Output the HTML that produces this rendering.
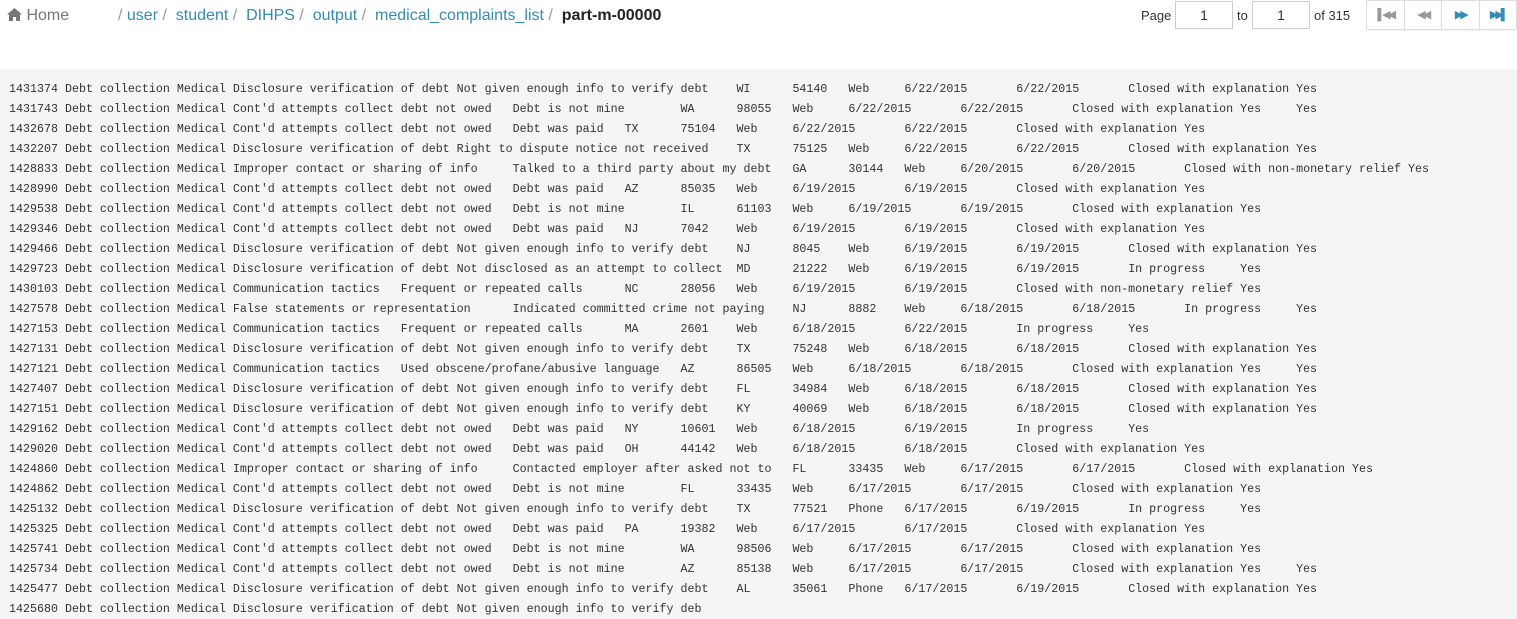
<!DOCTYPE html>
<html><head><meta charset="utf-8">
<style>
body{margin:0;width:1517px;height:619px;overflow:hidden;background:#fff;font-family:"Liberation Sans",sans-serif;position:relative}
.hdr{position:absolute;top:0;left:0;height:34px;width:1517px}
.home{position:absolute;left:7px;top:7px;font-size:16px;color:#777}
.crumbs{position:absolute;left:118px;top:7px;font-size:16px;color:#999;white-space:pre}
.crumbs a{color:#338bb8;text-decoration:none}
.crumbs b{color:#222}
.pg{position:absolute;top:8px;font-size:13px;color:#333}
.inp{position:absolute;top:1px;height:28px;border:1px solid #ccc;box-sizing:border-box;font-size:14px;text-align:center;line-height:26px;color:#333}
.btns{position:absolute;left:1366px;top:0;width:151px;height:30px;border:1px solid #ddd;box-sizing:border-box;display:flex;border-radius:2px;box-shadow:0 1px 1px rgba(0,0,0,.05)}
.btns div{flex:1;border-left:1px solid #ddd;font-size:11px;text-align:center;line-height:28px;letter-spacing:-3px}
.btns div:first-child{border-left:none}
pre{position:absolute;left:0;top:69px;width:1517px;height:550px;margin:0;background:#f5f5f5;padding:10px 0 0 9px;box-sizing:border-box;font-family:"Liberation Mono",monospace;font-size:11.67px;line-height:20px;color:#333;tab-size:8;-moz-tab-size:8;overflow:hidden}
</style></head><body>
<div class="hdr">
<div class="home"><svg width="15" height="13" viewBox="0 0 15 13" style="vertical-align:-1px"><path d="M7.5 0L0 6.5h2V13h4V9h3v4h4V6.5h2z" fill="#777"/></svg> Home</div>
<div class="crumbs">/ <a>user</a> /  <a>student</a> /  <a>DIHPS</a> /  <a>output</a> /  <a>medical_complaints_list</a> /  <b>part-m-00000</b></div>
<div class="pg" style="left:1141px">Page</div>
<div class="inp" style="left:1175px;width:58px">1</div>
<div class="pg" style="left:1237px">to</div>
<div class="inp" style="left:1252px;width:58px">1</div>
<div class="pg" style="left:1314px">of 315</div>
<div class="btns">
<div style="color:#999">▌◀◀</div>
<div style="color:#999">◀◀</div>
<div style="color:#338bb8">▶▶</div>
<div style="color:#338bb8">▶▶▌</div>
</div>
</div>
<pre>1431374 Debt collection Medical Disclosure verification of debt Not given enough info to verify debt	WI	54140	Web	6/22/2015	6/22/2015	Closed with explanation	Yes
1431743 Debt collection Medical Cont'd attempts collect debt not owed	Debt is not mine	WA	98055	Web	6/22/2015	6/22/2015	Closed with explanation	Yes	Yes
1432678 Debt collection Medical Cont'd attempts collect debt not owed	Debt was paid	TX	75104	Web	6/22/2015	6/22/2015	Closed with explanation	Yes
1432207 Debt collection Medical Disclosure verification of debt Right to dispute notice not received	TX	75125	Web	6/22/2015	6/22/2015	Closed with explanation	Yes
1428833 Debt collection Medical Improper contact or sharing of info	Talked to a third party about my debt	GA	30144	Web	6/20/2015	6/20/2015	Closed with non-monetary relief	Yes
1428990 Debt collection Medical Cont'd attempts collect debt not owed	Debt was paid	AZ	85035	Web	6/19/2015	6/19/2015	Closed with explanation	Yes
1429538 Debt collection Medical Cont'd attempts collect debt not owed	Debt is not mine	IL	61103	Web	6/19/2015	6/19/2015	Closed with explanation	Yes
1429346 Debt collection Medical Cont'd attempts collect debt not owed	Debt was paid	NJ	7042	Web	6/19/2015	6/19/2015	Closed with explanation	Yes
1429466 Debt collection Medical Disclosure verification of debt Not given enough info to verify debt	NJ	8045	Web	6/19/2015	6/19/2015	Closed with explanation	Yes
1429723 Debt collection Medical Disclosure verification of debt Not disclosed as an attempt to collect	MD	21222	Web	6/19/2015	6/19/2015	In progress	Yes
1430103 Debt collection Medical Communication tactics	Frequent or repeated calls	NC	28056	Web	6/19/2015	6/19/2015	Closed with non-monetary relief	Yes
1427578 Debt collection Medical False statements or representation	Indicated committed crime not paying	NJ	8882	Web	6/18/2015	6/18/2015	In progress	Yes
1427153 Debt collection Medical Communication tactics	Frequent or repeated calls	MA	2601	Web	6/18/2015	6/22/2015	In progress	Yes
1427131 Debt collection Medical Disclosure verification of debt Not given enough info to verify debt	TX	75248	Web	6/18/2015	6/18/2015	Closed with explanation	Yes
1427121 Debt collection Medical Communication tactics	Used obscene/profane/abusive language	AZ	86505	Web	6/18/2015	6/18/2015	Closed with explanation	Yes	Yes
1427407 Debt collection Medical Disclosure verification of debt Not given enough info to verify debt	FL	34984	Web	6/18/2015	6/18/2015	Closed with explanation	Yes
1427151 Debt collection Medical Disclosure verification of debt Not given enough info to verify debt	KY	40069	Web	6/18/2015	6/18/2015	Closed with explanation	Yes
1429162 Debt collection Medical Cont'd attempts collect debt not owed	Debt was paid	NY	10601	Web	6/18/2015	6/19/2015	In progress	Yes
1429020 Debt collection Medical Cont'd attempts collect debt not owed	Debt was paid	OH	44142	Web	6/18/2015	6/18/2015	Closed with explanation	Yes
1424860 Debt collection Medical Improper contact or sharing of info	Contacted employer after asked not to	FL	33435	Web	6/17/2015	6/17/2015	Closed with explanation	Yes
1424862 Debt collection Medical Cont'd attempts collect debt not owed	Debt is not mine	FL	33435	Web	6/17/2015	6/17/2015	Closed with explanation	Yes
1425132 Debt collection Medical Disclosure verification of debt Not given enough info to verify debt	TX	77521	Phone	6/17/2015	6/19/2015	In progress	Yes
1425325 Debt collection Medical Cont'd attempts collect debt not owed	Debt was paid	PA	19382	Web	6/17/2015	6/17/2015	Closed with explanation	Yes
1425741 Debt collection Medical Cont'd attempts collect debt not owed	Debt is not mine	WA	98506	Web	6/17/2015	6/17/2015	Closed with explanation	Yes
1425734 Debt collection Medical Cont'd attempts collect debt not owed	Debt is not mine	AZ	85138	Web	6/17/2015	6/17/2015	Closed with explanation	Yes	Yes
1425477 Debt collection Medical Disclosure verification of debt Not given enough info to verify debt	AL	35061	Phone	6/17/2015	6/19/2015	Closed with explanation	Yes
1425680 Debt collection Medical Disclosure verification of debt Not given enough info to verify deb</pre>
</body></html>
